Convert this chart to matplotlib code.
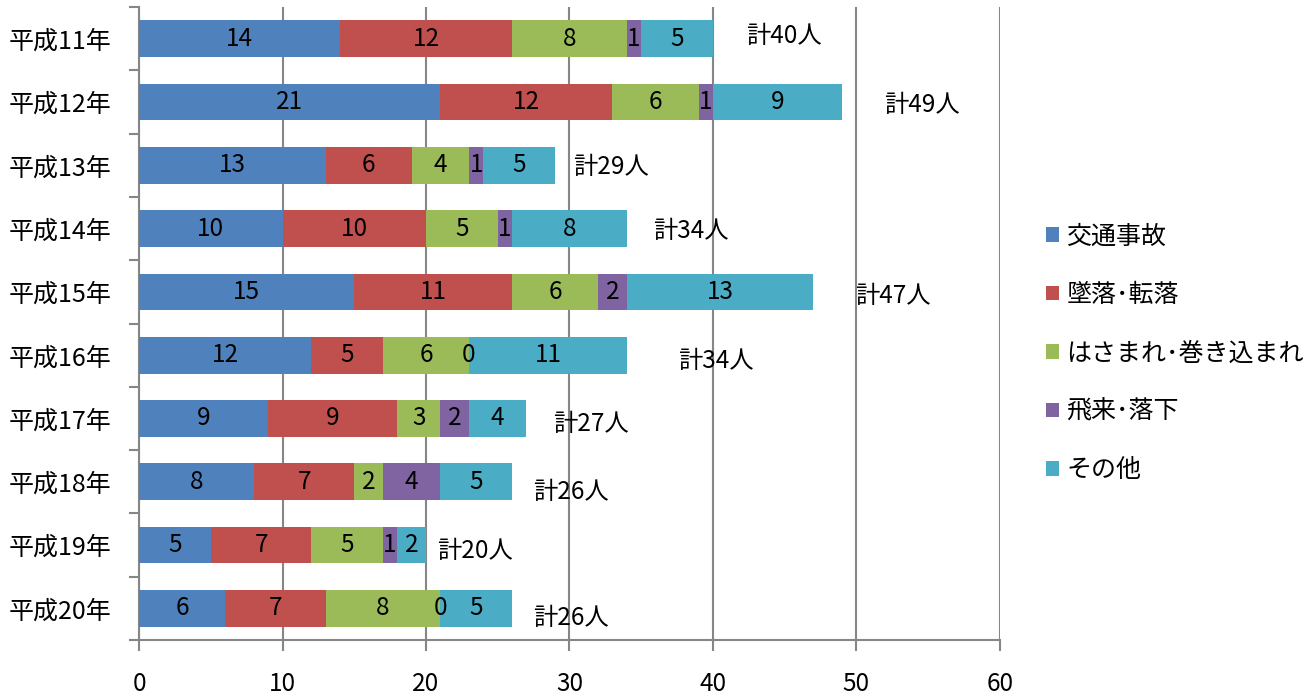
import matplotlib.pyplot as plt
import numpy as np

plt.rcParams['font.family'] = ['Noto Sans CJK JP', 'DejaVu Sans']

years = ['平成11年', '平成12年', '平成13年', '平成14年', '平成15年',
         '平成16年', '平成17年', '平成18年', '平成19年', '平成20年']
series = ['交通事故', '墜落･転落', 'はさまれ･巻き込まれ', '飛来･落下', 'その他']
traffic = [14, 21, 13, 10, 15, 12, 9, 8, 5, 6]
fall = [12, 12, 6, 10, 11, 5, 9, 7, 7, 7]
caught = [8, 6, 4, 5, 6, 6, 3, 2, 5, 8]
flying = [1, 1, 1, 1, 2, 0, 2, 4, 1, 0]
other = [5, 9, 5, 8, 13, 11, 4, 5, 2, 5]

colors = ['#4F81BD', '#C0504D', '#9BBB59', '#8064A2', '#4BACC6']
# total label nudges (points): right of bar end, down from bar centre
total_dx = [24, 30, 13, 19, 30, 37, 19, 15, 8, 15]
total_dy = [2, -2, -1, -2, -3, -4, -4, -7, -4, -7]

data = np.array([traffic, fall, caught, flying, other])
totals = data.sum(axis=0)
y = np.arange(len(years))
grid_c = '#868686'
fs = 17.5

fig = plt.figure(figsize=(13.12, 6.95), dpi=100)
ax = fig.add_axes([0.106, 0.079, 0.656, 0.911])

left = np.zeros(len(years))
for vals, name, c in zip(data, series, colors):
    ax.barh(y, vals, left=left, height=0.58, color=c, label=name, zorder=3)
    for yi, l, v in zip(y, left, vals):
        ax.text(l + v / 2, yi, str(v), ha='center', va='center',
                fontsize=fs, color='black', zorder=4)
    left += vals

for yi, t, dx, dy in zip(y, totals, total_dx, total_dy):
    ax.annotate(f'計{t}人', (t, yi), xytext=(dx, dy), textcoords='offset points',
                ha='left', va='center', fontsize=fs)

ax.set_xlim(0, 60)
ax.set_ylim(len(years) - 0.5, -0.5)
ax.set_xticks(range(0, 61, 10))
ax.set_yticks(y)
ax.set_yticklabels(years)
ax.set_yticks(np.arange(-0.5, len(years)), minor=True)
ax.tick_params(axis='y', which='major', length=0, pad=20, labelsize=18)
ax.tick_params(axis='y', which='minor', length=7, width=1.5, color=grid_c)
ax.tick_params(axis='x', length=8, width=1.5, color=grid_c, pad=14, labelsize=fs)
ax.grid(axis='x', color=grid_c, linewidth=1.5, zorder=0)
for s in ['top', 'right']:
    ax.spines[s].set_visible(False)
for s in ['left', 'bottom']:
    ax.spines[s].set_color(grid_c)
    ax.spines[s].set_linewidth(1.5)

ax.legend(loc='center left', bbox_to_anchor=(1.028, 0.453), frameon=False,
          fontsize=18, handlelength=0.5, handleheight=0.5, handletextpad=0.3,
          labelspacing=1.3)

fig.savefig('out.png', dpi=100)
